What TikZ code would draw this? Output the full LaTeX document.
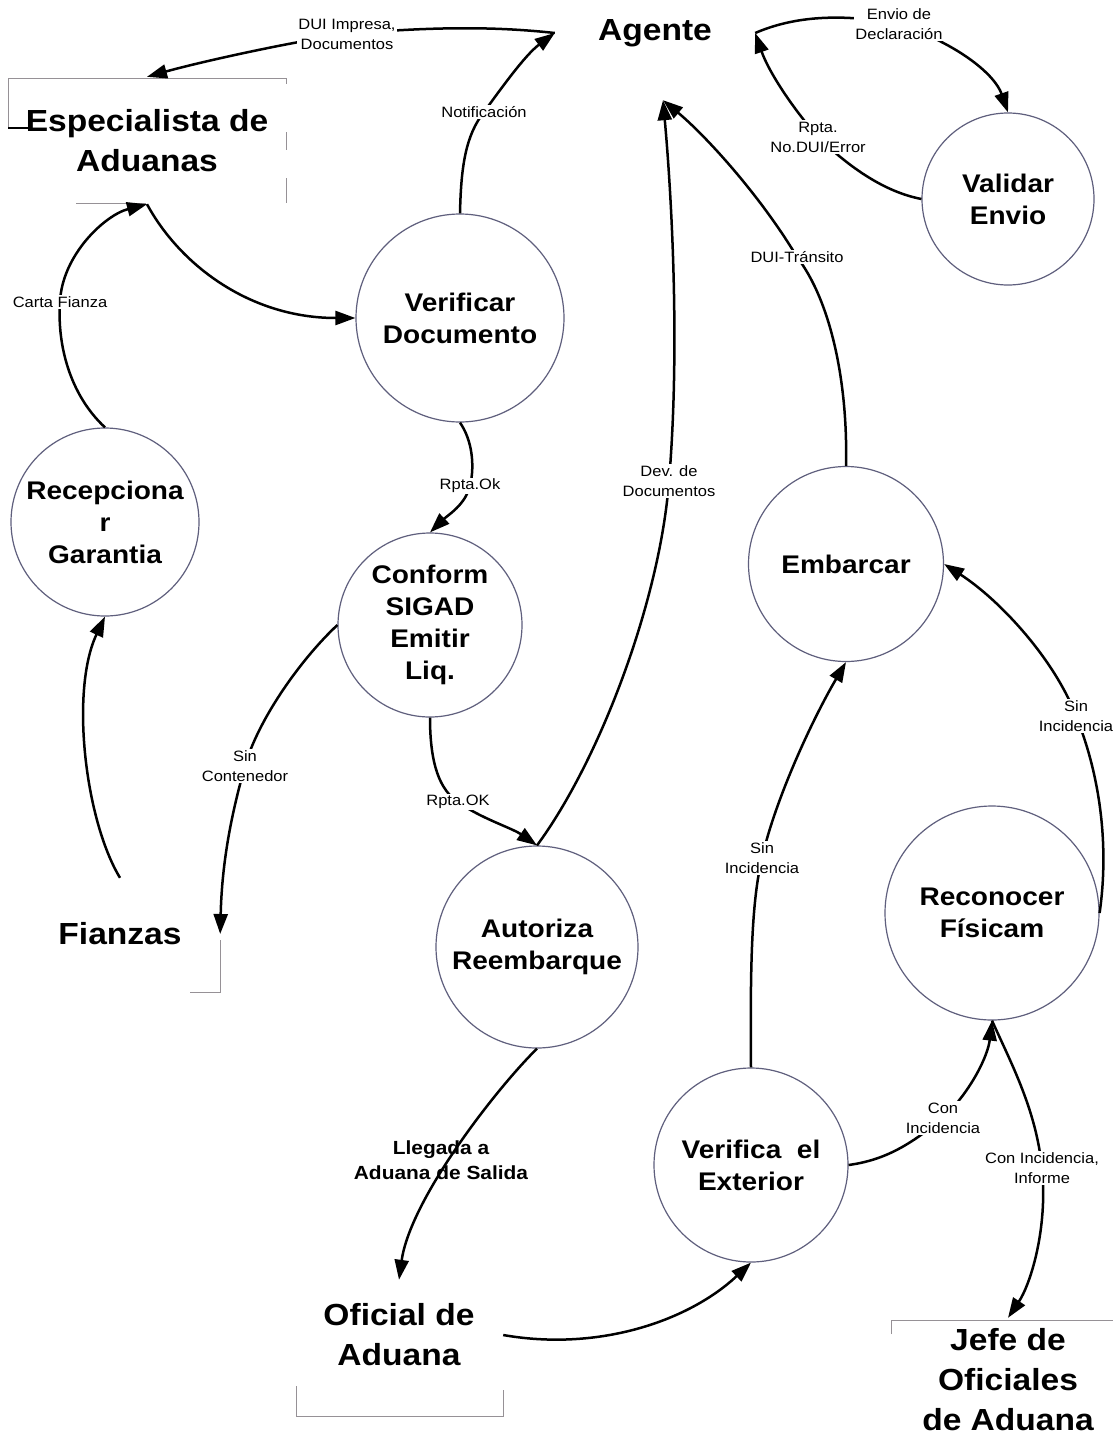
\documentclass[tikz,border=0pt]{standalone}
\usepackage{fontspec}
\setmainfont{Liberation Sans}[FakeStretch=1.1]
\usetikzlibrary{arrows.meta}

\definecolor{ringcol}{RGB}{95,95,125}
\definecolor{boxcol}{RGB}{150,145,150}

\tikzset{
    proc/.style={circle, draw=ringcol, line width=1.2pt, align=center, inner sep=0pt,
        font=\bfseries\fontsize{25.5}{32}\selectfont},
    actor/.style={align=center, inner sep=0pt, font=\bfseries\fontsize{30.5}{40}\selectfont},
    flow/.style={line width=2.5pt, -{Triangle[length=20pt,width=14pt]}},
    lbl/.style={fill=white, inner sep=1.5pt, align=center, font=\fontsize{15}{20}\selectfont},
    lblbig/.style={align=center, inner sep=0pt, font=\bfseries\fontsize{19}{25}\selectfont},
    box/.style={draw=boxcol, line width=1pt}
}

\begin{document}
\begin{tikzpicture}[x=1pt, y=-1pt]
    % page frame (image coordinates, y down)
    \path[fill=white, use as bounding box] (0,0) rectangle (1113,1438);

    % External entities
    \node[actor, minimum width=200pt, minimum height=134pt] (agente) at (655,33) {Agente};
    \node[actor, minimum width=278pt, minimum height=127pt] (especialista) at (147,140.5) {Especialista de\\Aduanas};
    \node[actor, minimum width=200pt, minimum height=112pt] (fianzas) at (120,934) {Fianzas};
    \node[actor, minimum width=208pt, minimum height=110pt] (oficial) at (399,1335) {Oficial de\\Aduana};
    \node[actor, minimum height=124pt] (jefe) at (1008,1380) {Jefe de\\Oficiales\\de Aduana};

    % Process circles
    \foreach \nm/\px/\py/\dm/\txt in {
        verificar/460/318/208/{Verificar\\Documento},
        recepcionar/105/522/188/{Recepciona\\r\\Garantia},
        conform/430/625/184/{Conform\\SIGAD\\Emitir\\Liq.},
        autoriza/537/947/202/{Autoriza\\Reembarque},
        embarcar/846/564/195/{Embarcar},
        reconocer/992/913/214/{Reconocer\\Físicam},
        verifext/751/1165/194/{Verifica\ \ el\\Exterior},
        validar/1008/199/172/{Validar\\Envio}} {
        \node[proc, minimum size=\dm pt] (\nm) at (\px,\py) {\txt};
    }

    % Box remnants of the entities
    \draw[box] (8,128) -- (8,78) -- (286,78) -- (286,84);
    \draw[box] (286,132) -- (286,150);
    \draw[box] (286,178) -- (286,203);
    \draw[box] (76,203) -- (146,203);
    \draw[line width=2pt] (8,128) -- (30,128);
    \draw[box] (220,940) -- (220,992) -- (190,992);
    \draw[box] (296,1386) -- (296,1416) -- (503,1416) -- (503,1390);
    \draw[box] (891,1334) -- (891,1320) -- (1113,1320);

    % Flows around Agente
    \draw[flow] (verificar.north) .. controls (461,165) and (466,135) .. (484,112)
        node[lbl] {Notificación} .. controls (500,90) and (525,55) .. (agente.west);
    \draw[flow] (agente.west) .. controls (500,27) and (440,26) .. (347,34)
        node[lbl] {DUI Impresa,\\Documentos} .. controls (290,42) and (200,62) .. (especialista.north);
    \draw[flow] (validar.west) .. controls (885,192) and (850,168) .. (818,137)
        node[lbl] {Rpta.\\No.DUI/Error} .. controls (790,105) and (768,70) .. (agente.east);
    \draw[flow] (agente.east) .. controls (790,18) and (835,12) .. (899,24)
        node[lbl] {Envio de\\Declaración} .. controls (960,45) and (995,75) .. (validar.north);
    \draw[flow] (autoriza.north) .. controls (600,760) and (660,600) .. (669,481)
        node[lbl] {Dev. de\\Documentos} .. controls (680,350) and (672,200) .. ([xshift=8pt]agente.south);
    \draw[flow] (embarcar.north) .. controls (848,380) and (830,300) .. (797,257)
        node[lbl] {DUI-Tránsito} .. controls (760,195) and (705,135) .. ([xshift=8pt]agente.south);

    % Left side
    \draw[flow] (especialista.south) .. controls (180,265) and (250,318) .. (verificar.west);
    \draw[flow] (recepcionar.north) .. controls (70,395) and (57,345) .. (60,302)
        node[lbl] {Carta Fianza} .. controls (62,255) and (105,215) .. (especialista.south);
    \draw[flow] (fianzas.north) .. controls (85,820) and (70,690) .. (recepcionar.south);
    \draw[flow] (verificar.south) .. controls (472,440) and (475,465) .. (470,486)
        node[lbl] {Rpta.Ok} .. controls (465,505) and (448,515) .. (conform.north);
    \draw[flow] (conform.west) .. controls (300,660) and (258,720) .. (245,766)
        node[lbl] {Sin\\Contenedor} .. controls (232,812) and (222,860) .. (fianzas.east);
    \draw[flow] (conform.south) .. controls (430,765) and (440,790) .. (458,802)
        node[lbl] {Rpta.OK} .. controls (480,818) and (512,828) .. (autoriza.north);

    % Lower part
    \draw[flow] (autoriza.south) .. controls (495,1090) and (410,1200) .. (oficial.north);
    \node[lblbig] (llegada) at (441,1160) {Llegada a\\Aduana de Salida};
    \draw[flow] (oficial.east) .. controls (600,1352) and (690,1320) .. (verifext.south);
    \draw[flow] (verifext.north) .. controls (750,960) and (752,900) .. (762,858)
        node[lbl] {Sin\\Incidencia} .. controls (775,800) and (812,720) .. (embarcar.south);
    \draw[flow] (reconocer.east) .. controls (1110,840) and (1098,770) .. (1076,716)
        node[lbl] {Sin\\Incidencia} .. controls (1055,660) and (1000,600) .. (embarcar.east);
    \draw[flow] (verifext.east) .. controls (885,1160) and (910,1145) .. (943,1118)
        node[lbl] {Con\\Incidencia} .. controls (972,1090) and (988,1055) .. (reconocer.south);
    \draw[flow] (reconocer.south) .. controls (1012,1065) and (1036,1110) .. (1042,1168)
        node[lbl] {Con Incidencia,\\Informe} .. controls (1048,1230) and (1030,1285) .. (jefe.north);
\end{tikzpicture}
\end{document}
